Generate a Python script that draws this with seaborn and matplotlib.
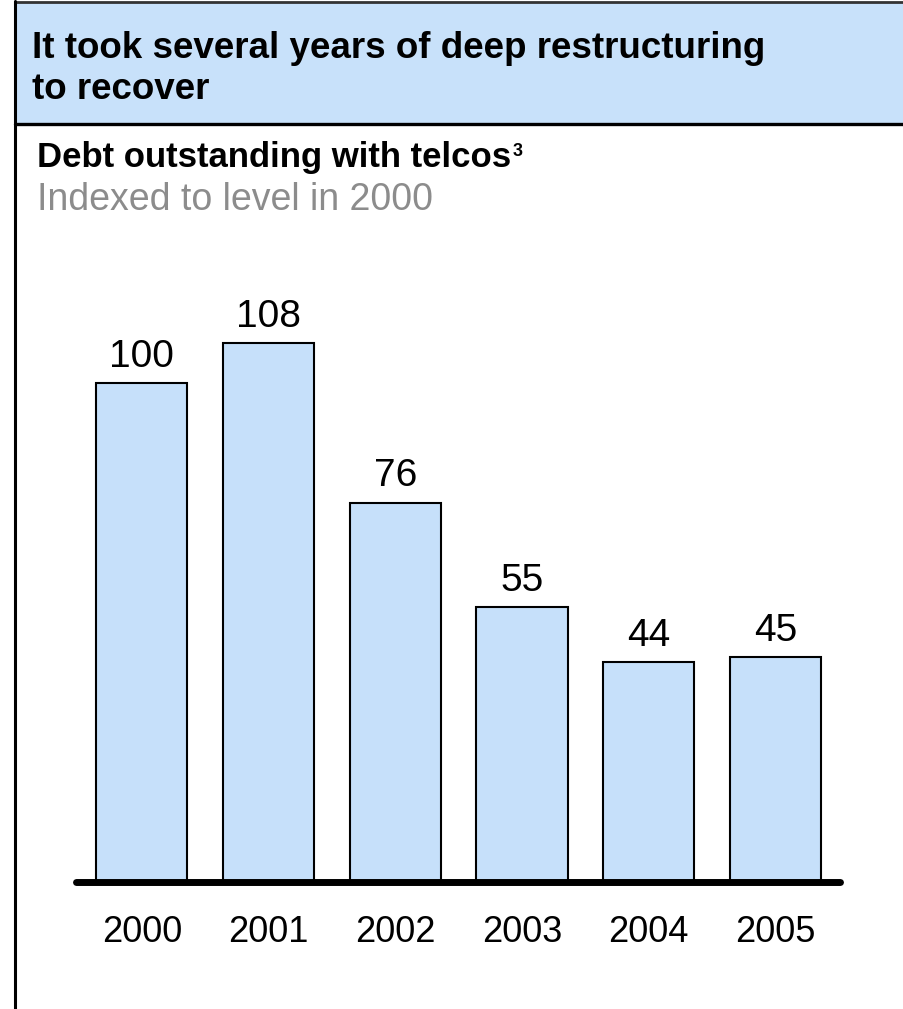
import matplotlib
matplotlib.use("Agg")
import matplotlib.pyplot as plt
from matplotlib.patches import Rectangle
from matplotlib.lines import Line2D
import seaborn as sns
import pandas as pd

# Debt outstanding with telcos, indexed to 2000 = 100
years = ["2000", "2001", "2002", "2003", "2004", "2005"]
debt_index = [100, 108, 76, 55, 44, 45]

headline_lines = ["It took several years of deep restructuring", "to recover"]
chart_title = "Debt outstanding with telcos"
footnote_mark = "3"
chart_subtitle = "Indexed to level in 2000"

BAR_BLUE = "#C6E0FA"
HEADER_BLUE = "#C8E1FA"

sns.set_theme(style="white")
plt.rcParams["font.family"] = ["Liberation Sans", "DejaVu Sans"]
plt.rcParams["text.color"] = "black"
plt.rcParams["xtick.color"] = "black"

W, H = 904, 1009
fig = plt.figure(figsize=(W / 100, H / 100), dpi=100)


def fx(px):
    return px / W


def fy(py):
    return 1 - py / H


# Header band
fig.patches.append(Rectangle((fx(15), fy(124)), 1.0, 122 / H,
                             transform=fig.transFigure, facecolor=HEADER_BLUE,
                             edgecolor="none", zorder=0))
fig.lines.append(Line2D([fx(15), 1], [fy(2), fy(2)], transform=fig.transFigure,
                        color="#333333", lw=2))
fig.lines.append(Line2D([fx(15), 1], [fy(124), fy(124)], transform=fig.transFigure,
                        color="black", lw=2.4))
# Left frame rule
fig.lines.append(Line2D([fx(15.5), fx(15.5)], [0, fy(1)], transform=fig.transFigure,
                        color="black", lw=2.2))

for line, base in zip(headline_lines, [58, 99]):
    fig.text(fx(32), fy(base), line, fontsize=26.5, fontweight="bold",
             ha="left", va="baseline", color="black")

title_txt = fig.text(fx(37), fy(167), chart_title, fontsize=25, fontweight="bold",
                     ha="left", va="baseline", color="black")
fig.canvas.draw()
bb = title_txt.get_window_extent(renderer=fig.canvas.get_renderer())
fig.text(bb.x1 / W + fx(2), fy(156), footnote_mark, fontsize=13, fontweight="bold",
         ha="left", va="baseline", color="black")
fig.text(fx(37), fy(210), chart_subtitle, fontsize=27,
         ha="left", va="baseline", color="#8C8C8C")

# Plot area: baseline at y=882 px, spans x 76..840 px
ax = fig.add_axes([fx(76), fy(882), fx(840) - fx(76), fy(308) - fy(882)])

df = pd.DataFrame({"year": years, "index": debt_index})
sns.barplot(data=df, x="year", y="index", color=BAR_BLUE, saturation=1,
            edgecolor="black", linewidth=1.5, width=0.72, ax=ax)

ax.set_xlim(-0.52, 5.51)
ax.set_ylim(0, 115)
for c in ax.containers:
    ax.bar_label(c, labels=[str(v) for v in debt_index], padding=6, fontsize=28,
                 color="black")

ax.axhline(0, color="black", lw=5, solid_capstyle="round", clip_on=False, zorder=5)

for s in ax.spines.values():
    s.set_visible(False)
ax.set_yticks([])
ax.set_xlabel("")
ax.set_ylabel("")
ax.tick_params(axis="x", length=0, pad=24, labelsize=26, labelcolor="black")
ax.patch.set_alpha(0)

fig.savefig("out.png", dpi=100)
